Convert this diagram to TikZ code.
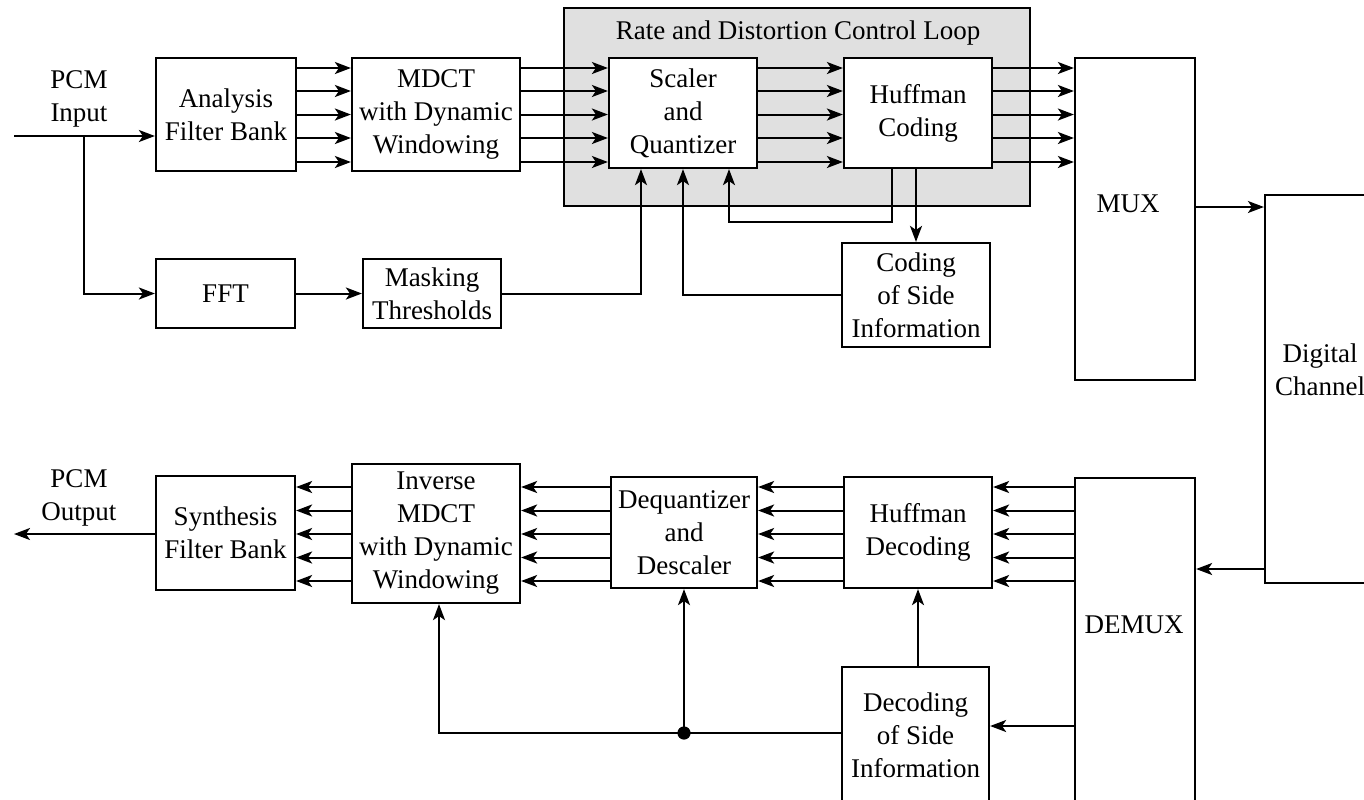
\documentclass[tikz,border=0pt]{standalone}
\usepackage{fontspec}
\setmainfont{Liberation Serif}
\usetikzlibrary{arrows.meta,calc}
\definecolor{loopfill}{RGB}{224,224,224}
\tikzset{
  txt/.style={font=\fontsize{13.5pt}{16.5pt}\selectfont, align=center},
  blk/.style={txt, draw=black, line width=1.1pt, fill=white, inner sep=0pt},
  lbl/.style={txt, inner sep=0pt},
  wire/.style={line width=1pt},
  arr/.style={wire, -{Stealth[length=8pt,width=6pt,inset=2pt]}},
}
\begin{document}
\begin{tikzpicture}[x=0.5pt,y=-0.5pt]
\useasboundingbox (0,0) rectangle (1364,799);
\clip (0,0) rectangle (1364,799);
\fill[white] (0,0) rectangle (1364,799);

% rate and distortion control loop background
\node[draw=black, line width=1.1pt, fill=loopfill, inner sep=0pt,
      minimum width=233pt, minimum height=99pt] (loop) at (797,107) {};
\node[lbl] (looptitle) at (798,33) {Rate and Distortion Control Loop};

% encoder blocks
\node[blk, minimum width=70pt, minimum height=56.5pt] (afb) at (226,114.5) {Analysis\\Filter Bank};
\node[blk, minimum width=84pt, minimum height=56.5pt] (mdct) at (436,114.5) {MDCT\\with Dynamic\\Windowing};
\node[blk, minimum width=74pt, minimum height=55pt] (sq) at (683,113) {Scaler\\and\\Quantizer};
\node[blk, minimum width=74pt, minimum height=55pt] (hc) at (918,113) {Huffman\\Coding};
\node[blk, minimum width=60pt, minimum height=161pt] (mux) at (1135,219) {};
\node[lbl] (muxtext) at (1128,204) {MUX};
\node[blk, minimum width=69.5pt, minimum height=34.5pt] (fft) at (225.5,293.5) {FFT};
\node[blk, minimum width=69pt, minimum height=34.5pt] (mask) at (432,293.5) {Masking\\Thresholds};
\node[blk, minimum width=74pt, minimum height=52pt] (cs) at (916,295) {Coding\\of Side\\Information};

% channel
\node[blk, minimum width=55pt, minimum height=194pt] (dc) at (1320,389) {};
\node[lbl] (dctext) at (1320,370) {Digital\\Channel};

% decoder blocks
\node[blk, minimum width=60pt, minimum height=181pt] (demux) at (1135,659) {};
\node[lbl] (demuxtext) at (1134,625) {DEMUX};
\node[blk, minimum width=74pt, minimum height=55.5pt] (hd) at (918,532.5) {Huffman\\Decoding};
\node[blk, minimum width=73pt, minimum height=55.5pt] (dq) at (684,532.5) {Dequantizer\\and\\Descaler};
\node[blk, minimum width=84pt, minimum height=69.5pt] (imdct) at (436,533.5) {Inverse\\MDCT\\with Dynamic\\Windowing};
\node[blk, minimum width=69.5pt, minimum height=57pt] (sfb) at (225.5,533) {Synthesis\\Filter Bank};
\node[blk, minimum width=73.5pt, minimum height=68pt] (ds) at (915.5,735) {Decoding\\of Side\\Information};

% input / output labels
\node[lbl] (pcmintext) at (79,99) {PCM\\Input};
\node[lbl] (pcmouttext) at (79,498) {PCM\\Output};

% row levels of the parallel subband lines
\foreach \i/\y in {1/68,2/91,3/114.5,4/138,5/162} {\coordinate (t\i) at (0,\y);}
\foreach \i/\y in {1/487,2/510.5,3/534,4/557.5,5/581} {\coordinate (b\i) at (0,\y);}

% encoder signal path
\coordinate (pcmin) at (14,136);
\coordinate (br) at (84,136);
\draw[arr] (pcmin) -- (afb.west |- pcmin);
\draw[arr] (br) |- (fft.west);
\draw[arr] (fft.east) -- (mask.west);
\foreach \i in {1,...,5} {
  \draw[arr] (afb.east |- t\i) -- (mdct.west |- t\i);
  \draw[arr] (mdct.east |- t\i) -- (sq.west |- t\i);
  \draw[arr] (sq.east |- t\i) -- (hc.west |- t\i);
  \draw[arr] (hc.east |- t\i) -- (mux.west |- t\i);
}
\draw[arr] (mask.east) -| ([xshift=-21pt]sq.south);
\draw[arr] (cs.west) -| (sq.south);
\draw[arr] ([xshift=-13pt]hc.south) -- ++(0,53) -| ([xshift=23pt]sq.south);
\draw[arr] (hc.south -| cs.north) -- (cs.north);

% channel connections
\coordinate (chin) at (0,207);
\coordinate (chout) at (0,569);
\draw[arr] (mux.east |- chin) -- (dc.west |- chin);
\draw[arr] (dc.west |- chout) -- (demux.east |- chout);

% decoder signal path
\foreach \i in {1,...,5} {
  \draw[arr] (demux.west |- b\i) -- (hd.east |- b\i);
  \draw[arr] (hd.west |- b\i) -- (dq.east |- b\i);
  \draw[arr] (dq.west |- b\i) -- (imdct.east |- b\i);
  \draw[arr] (imdct.west |- b\i) -- (sfb.east |- b\i);
}
\coordinate (pcmout) at (14,534);
\draw[arr] (sfb.west |- pcmout) -- (pcmout);

% side information path
\coordinate (sidein) at (0,726);
\coordinate (jl) at (0,733);
\coordinate (jn) at (dq.south |- jl);
\draw[arr] (demux.west |- sidein) -- (ds.east |- sidein);
\draw[arr] (ds.north -| hd.south) -- (hd.south);
\draw[arr] (ds.west |- jl) -| ([xshift=1.5pt]imdct.south);
\draw[arr] (jn) -- (dq.south);
\fill (jn) circle (3.3pt);
\end{tikzpicture}
\end{document}
